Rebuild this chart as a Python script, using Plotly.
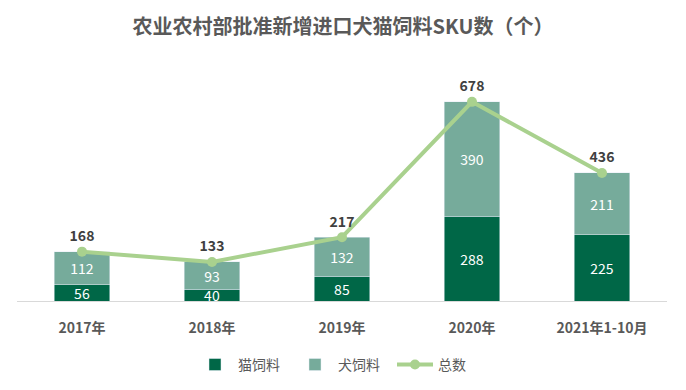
import plotly.graph_objects as go

categories = ["2017年", "2018年", "2019年", "2020年", "2021年1-10月"]
cat_feed = [56, 40, 85, 288, 225]
dog_feed = [112, 93, 132, 390, 211]
total = [168, 133, 217, 678, 436]

FONT = "Noto Sans CJK SC"
DARK = "#006747"
LIGHT = "#76ab9b"
LINE = "#a9d18e"

fig = go.Figure()
fig.add_trace(go.Bar(
    x=categories, y=cat_feed, name="猫饲料", marker_color=DARK,
    text=cat_feed, textposition="inside", insidetextanchor="middle",
    textangle=0, constraintext="none",
    textfont=dict(color="white", size=14, family=FONT), width=0.43,
))
fig.add_trace(go.Bar(
    x=categories, y=dog_feed, name="犬饲料", marker_color=LIGHT,
    text=dog_feed, textposition="inside", insidetextanchor="middle",
    textangle=0, constraintext="none",
    textfont=dict(color="white", size=14, family=FONT), width=0.43,
))
fig.add_trace(go.Scatter(
    x=categories, y=total, name="总数", mode="lines+markers+text",
    line=dict(color=LINE, width=4), marker=dict(color=LINE, size=10),
    text=total, textposition="top center",
    textfont=dict(color="#404040", size=14, family=FONT, weight="bold"),
))

fig.update_layout(
    barmode="stack",
    width=686, height=390,
    margin=dict(l=17, r=19, t=66, b=89, autoexpand=False),
    paper_bgcolor="white", plot_bgcolor="white",
    font=dict(family=FONT, color="#595959"),
    title=dict(text="<b>农业农村部批准新增进口犬猫饲料SKU数（个）</b>",
               x=0.5, xanchor="center", y=1 - 27 / 390, yanchor="middle",
               font=dict(size=20, color="#595959", family=FONT)),
    showlegend=True,
    legend=dict(orientation="h", x=0.5, xanchor="center", y=-0.272, yanchor="middle",
                font=dict(size=14, color="#595959", family=FONT),
                traceorder="normal", itemwidth=36,
                entrywidth=49, entrywidthmode="pixels"),
    xaxis=dict(showline=True, linecolor="#d9d9d9", linewidth=1, ticks="",
               tickfont=dict(size=14, color="#595959", family=FONT, weight="bold"),
               ticklabelstandoff=14, showgrid=False, automargin=False),
    yaxis=dict(visible=False, range=[0, 800], showgrid=False),
)

fig.write_html("out.html", config={"displayModeBar": False},
               post_script="document.body.style.margin='0';")
